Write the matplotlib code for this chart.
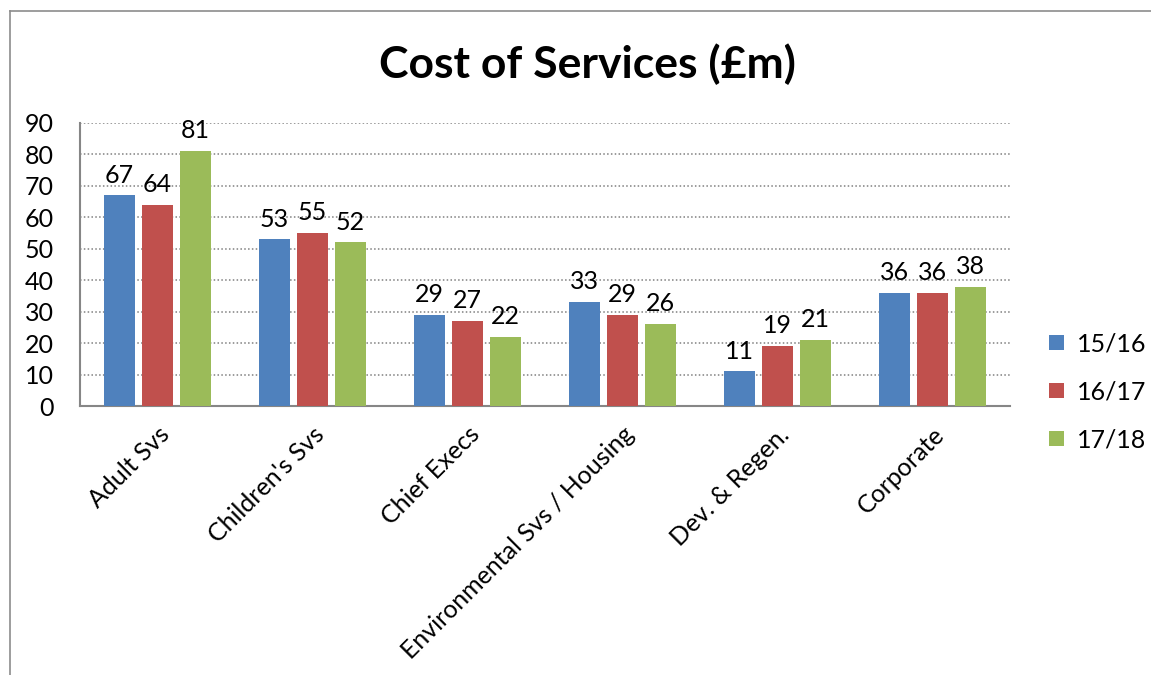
import matplotlib.pyplot as plt
import matplotlib.lines as mlines
import numpy as np

plt.rcParams['font.family'] = ['Lato', 'DejaVu Sans']

categories = ['Adult Svs', "Children's Svs", 'Chief Execs',
              'Environmental Svs / Housing', 'Dev. & Regen.', 'Corporate']
series = ['15/16', '16/17', '17/18']
v1516 = [67, 53, 29, 33, 11, 36]
v1617 = [64, 55, 27, 29, 19, 36]
v1718 = [81, 52, 22, 26, 21, 38]
colors = ['#4F81BD', '#C0504D', '#9BBB59']

fig = plt.figure(figsize=(11.51, 6.75), dpi=100)
ax = fig.add_axes([80 / 1151, 1 - 406 / 675, 930 / 1151, 283 / 675])

x = np.arange(len(categories))
offsets = [-0.245, 0, 0.245]
for vals, off, col, name in zip([v1516, v1617, v1718], offsets, colors, series):
    bars = ax.bar(x + off, vals, width=0.2, color=col, label=name, zorder=3)
    for b, v in zip(bars, vals):
        ax.text(b.get_x() + b.get_width() / 2, v + 2.8, str(v),
                ha='center', va='bottom', fontsize=18, zorder=4)

ax.set_xlim(-0.5, len(categories) - 0.5)
ax.set_ylim(0, 90)
ax.set_yticks(range(0, 91, 10))
ax.yaxis.grid(True, linestyle=(0, (1, 1.5)), color='#808080', linewidth=1.1, zorder=0)
ax.set_xticks(x)
ax.set_xticklabels(categories, rotation=45, ha='right', rotation_mode='anchor', fontsize=18)
ax.tick_params(axis='x', length=0, pad=12)
ax.tick_params(axis='y', length=0, pad=19, labelsize=18)
for s in ['top', 'right']:
    ax.spines[s].set_visible(False)
for s in ['left', 'bottom']:
    ax.spines[s].set_color('#868686')
    ax.spines[s].set_linewidth(1.5)

fig.text(587 / 1151, 1 - 64 / 675, 'Cost of Services (£m)', ha='center', va='center',
         fontsize=32, fontweight='bold')

ax.legend(loc='center left', bbox_to_anchor=(1.018, 0.05), frameon=False,
          fontsize=18, handlelength=0.6, handleheight=0.6, labelspacing=1.0,
          handletextpad=0.5)

# outer chart border (left and top)
fig.add_artist(mlines.Line2D([10 / 1151, 10 / 1151], [0, 1 - 11 / 675],
                             transform=fig.transFigure, color='#8c8c8c', linewidth=1.2))
fig.add_artist(mlines.Line2D([10 / 1151, 1], [1 - 11 / 675, 1 - 11 / 675],
                             transform=fig.transFigure, color='#8c8c8c', linewidth=1.2))

fig.savefig('out.png', dpi=100)
